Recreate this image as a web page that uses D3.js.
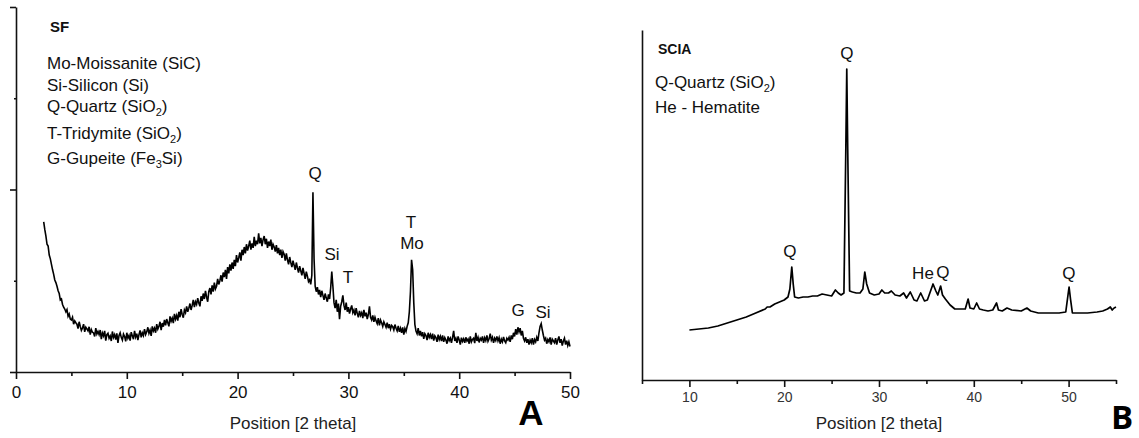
<!DOCTYPE html>
<html>
<head>
<meta charset="utf-8">
<script src="https://cdn.jsdelivr.net/npm/d3@7"></script>
<style>
  html, body { margin: 0; padding: 0; background: #fff; }
  svg { display: block; font-family: "Liberation Sans", Arial, sans-serif; }
</style>
</head>
<body>
<svg id="chart" width="1139" height="438"></svg>
<script>
// ---- SF diffractogram: counts on a uniform 2θ grid (2.5° – 50.0°, 0.1° step) ----
const scanStartA = 2.5;
const scanStepA = 0.1;
const countsA = [
  822, 780, 745, 700, 690, 641, 620, 590, 560, 535,   // 2.5 – 3.4
  504, 490, 470, 445, 430, 395, 400, 370, 355, 345,   // 3.5 – 4.4
  330, 342, 305, 318, 290, 285, 300, 262, 280, 270,   // 4.5 – 5.4
  262, 238, 275, 250, 228, 241, 262, 220, 245, 236,   // 5.5 – 6.4
  225, 248, 205, 232, 218, 214, 195, 240, 208, 222,   // 6.5 – 7.4
  205, 230, 180, 214, 198, 225, 172, 205, 212, 185,   // 7.5 – 8.4
  198, 170, 222, 190, 205, 178, 212, 160, 200, 215,   // 8.5 – 9.4
  190, 175, 208, 195, 168, 215, 185, 200, 172, 218,   // 9.5 – 10.4
  198, 180, 225, 192, 210, 175, 205, 228, 190, 215,   // 10.5 – 11.4
  200, 235, 205, 220, 245, 212, 230, 198, 250, 225,   // 11.5 – 12.4
  240, 215, 262, 235, 250, 275, 230, 268, 248, 285,   // 12.5 – 13.4
  255, 290, 270, 250, 305, 278, 295, 268, 318, 290,   // 13.5 – 14.4
  310, 282, 330, 300, 345, 315, 298, 340, 325, 360,   // 14.5 – 15.4
  330, 350, 375, 340, 365, 395, 355, 385, 370, 405,   // 15.5 – 16.4
  378, 360, 415, 390, 430, 400, 445, 410, 385, 440,   // 16.5 – 17.4
  460, 425, 475, 440, 490, 455, 470, 510, 480, 500,   // 17.5 – 18.4
  530, 495, 545, 520, 560, 510, 575, 540, 590, 555,   // 18.5 – 19.4
  600, 565, 615, 580, 640, 600, 625, 655, 610, 670,   // 19.5 – 20.4
  640, 685, 650, 700, 665, 690, 720, 670, 705, 680,   // 20.5 – 21.4
  740, 690, 720, 700, 760, 705, 735, 690, 725, 745,   // 21.5 – 22.4
  700, 730, 680, 715, 690, 725, 670, 700, 685, 660,   // 22.5 – 23.4
  695, 650, 680, 640, 670, 625, 660, 645, 610, 650,   // 23.5 – 24.4
  615, 590, 630, 600, 575, 610, 585, 560, 600, 570,   // 24.5 – 25.4
  545, 580, 555, 530, 570, 540, 510, 550, 525, 495,   // 25.5 – 26.4
  505, 480, 530, 985, 620, 470, 440, 465, 425, 450,   // 26.5 – 27.4
  410, 445, 420, 395, 430, 405, 385, 425, 400, 460,   // 27.5 – 28.4
  550, 470, 380, 350, 395, 330, 375, 290, 360, 385,   // 28.5 – 29.4
  420, 365, 340, 380, 330, 355, 320, 345, 365, 325,   // 29.5 – 30.4
  340, 310, 350, 320, 300, 335, 310, 325, 295, 340,   // 30.5 – 31.4
  305, 325, 290, 315, 360, 300, 285, 310, 275, 300,   // 31.5 – 32.4
  280, 265, 295, 255, 285, 270, 250, 275, 260, 245,   // 32.5 – 33.4
  270, 240, 262, 235, 255, 248, 230, 260, 240, 225,   // 33.5 – 34.4
  252, 220, 240, 215, 245, 205, 238, 222, 250, 270,   // 34.5 – 35.4
  330, 440, 615, 560, 380, 260, 225, 210, 240, 200,   // 35.5 – 36.4
  225, 195, 218, 182, 210, 200, 175, 215, 190, 205,   // 36.5 – 37.4
  180, 210, 172, 198, 188, 165, 205, 178, 195, 170,   // 37.5 – 38.4
  200, 165, 188, 175, 155, 195, 172, 185, 160, 190,   // 38.5 – 39.4
  225, 170, 185, 160, 195, 175, 150, 188, 168, 182,   // 39.5 – 40.4
  160, 190, 170, 180, 155, 195, 165, 178, 185, 158,   // 40.5 – 41.4
  215, 170, 190, 162, 185, 175, 195, 160, 188, 172,   // 41.5 – 42.4
  200, 168, 182, 210, 175, 190, 160, 185, 172, 195,   // 42.5 – 43.4
  170, 188, 155, 180, 165, 192, 170, 160, 185, 175,   // 43.5 – 44.4
  190, 165, 200, 180, 215, 195, 235, 205, 245, 220,   // 44.5 – 45.4
  240, 200, 225, 185, 170, 190, 160, 180, 150, 175,   // 45.5 – 46.4
  160, 185, 150, 178, 165, 190, 170, 215, 250, 265,   // 46.5 – 47.4
  230, 200, 175, 185, 155, 178, 165, 190, 150, 180,   // 47.5 – 48.4
  170, 160, 185, 150, 175, 195, 160, 180, 145, 170,   // 48.5 – 49.4
  185, 150, 172, 145, 165, 140                        // 49.5 – 50.0
];

// ---- SCIA diffractogram ----
const twoThetaB = [
  10, 11, 12, 13, 14, 15, 16, 17, 18, 18.2, 18.5, 19, 19.5, 20, 20.4, 20.6, 20.8, 20.95, 21.1, 21.5,
  22, 22.5, 23, 23.5, 24, 24.5, 25, 25.4, 25.7, 26, 26.3, 26.5, 26.6, 26.7, 26.9, 27.2, 27.6, 28, 28.3, 28.5,
  28.7, 29, 29.5, 30, 30.3, 30.6, 31, 31.3, 31.7, 32.2, 32.6, 32.9, 33.3, 33.7, 34, 34.4, 34.8, 35.1, 35.4, 35.7,
  36, 36.2, 36.5, 36.7, 37, 37.5, 38, 38.5, 39.1, 39.4, 39.6, 40, 40.3, 40.6, 41, 41.5, 42, 42.4, 42.6, 43,
  43.5, 44, 45, 45.6, 46, 46.8, 48, 49, 49.7, 49.95, 50.05, 50.2, 50.4, 51, 52, 53, 53.6, 54.1, 54.4, 54.6,
  54.8, 55
];
const countsB = [
  500, 510, 520, 540, 570, 600, 630, 670, 710, 730, 730, 760, 780, 800, 830, 910, 1130, 960, 830, 820,
  830, 830, 840, 840, 860, 850, 840, 900, 870, 850, 870, 2310, 3110, 2310, 890, 880, 870, 870, 910, 1080,
  960, 870, 850, 860, 900, 870, 870, 890, 850, 840, 870, 820, 880, 800, 790, 870, 790, 800, 880, 960,
  890, 850, 940, 850, 810, 750, 710, 710, 710, 810, 720, 710, 770, 710, 700, 690, 700, 770, 700, 690,
  720, 700, 690, 720, 690, 670, 670, 670, 680, 860, 930, 810, 670, 670, 670, 680, 690, 710, 730, 700,
  720, 730
];

// ---- axis ticks ----
const xTicksA = [0, 10, 20, 30, 40, 50];
const xMinorA = [5, 15, 25, 35, 45];
const yTicksA = [0, 1000, 2000];
const yMinorA = [500, 1500];
const xTicksB = [10, 20, 30, 40, 50];
const xMinorB = [5, 15, 25, 35, 45, 55];

// ---- phase keys ----
const titleA = "SF";
const phasesA = [
  [{ t: "Mo-Moissanite (SiC)" }],
  [{ t: "Si-Silicon (Si)" }],
  [{ t: "Q-Quartz (SiO" }, { t: "2", sub: true }, { t: ")" }],
  [{ t: "T-Tridymite (SiO" }, { t: "2", sub: true }, { t: ")" }],
  [{ t: "G-Gupeite (Fe" }, { t: "3", sub: true }, { t: "Si)" }]
];
const titleB = "SCIA";
const phasesB = [
  [{ t: "Q-Quartz (SiO" }, { t: "2", sub: true }, { t: ")" }],
  [{ t: "He - Hematite" }]
];

// ---- reflection labels (2θ, count level of the text baseline) ----
const peakLabelsA = [
  { text: "Q",  at: 26.99, level: 1057 },
  { text: "Si", at: 28.52, level: 614 },
  { text: "T",  at: 29.96, level: 488 },
  { text: "T",  at: 35.65, level: 789 },
  { text: "Mo", at: 35.74, level: 674 },
  { text: "G",  at: 45.31, level: 307 },
  { text: "Si", at: 47.56, level: 296 }
];
const peakLabelsB = [
  { text: "Q",  at: 20.61, level: 1230 },
  { text: "Q",  at: 26.62, level: 3210 },
  { text: "He", at: 34.64, level: 1010 },
  { text: "Q",  at: 36.75, level: 1020 },
  { text: "Q",  at: 50.04, level: 1010 }
];

const axisTitle = "Position [2 theta]";

// =====================================================================
const svg = d3.select("#chart");
const ink = "#111";

function styleAxis(g, width) {
  g.selectAll("path.domain").attr("stroke", ink).attr("stroke-width", width);
  g.selectAll(".tick line").attr("stroke", ink).attr("stroke-width", width);
}

function drawKey(x, title, titleY, titleSize, rows, rowYs) {
  svg.append("text")
    .attr("x", x + 3).attr("y", titleY)
    .attr("font-size", titleSize).attr("font-weight", "bold").attr("fill", ink)
    .text(title);
  rows.forEach((parts, i) => {
    const t = svg.append("text")
      .attr("x", x).attr("y", rowYs[i])
      .attr("font-size", 17).attr("fill", ink);
    parts.forEach(p => {
      if (p.sub) {
        t.append("tspan").attr("font-size", 11).attr("dy", 4).text(p.t);
      } else {
        const s = t.append("tspan").text(p.t);
        if (t.selectAll("tspan").size() > 1) s.attr("dy", -4);
      }
    });
  });
}

// ---------------- Panel A ----------------
const xA = d3.scaleLinear().domain([0, 50]).range([16, 570]);
const yA = d3.scaleLinear().domain([0, 2000]).range([372, 7]);

const gxA = svg.append("g").attr("transform", `translate(0,${yA(0)})`)
  .call(d3.axisBottom(xA).tickValues(xTicksA).tickSize(7).tickSizeOuter(0).tickPadding(7));
gxA.selectAll("text").attr("font-size", 17).attr("fill", ink).attr("font-family", "Liberation Sans, Arial, sans-serif");
styleAxis(gxA, 1.6);

const gxAm = svg.append("g").attr("transform", `translate(0,${yA(0)})`)
  .call(d3.axisBottom(xA).tickValues(xMinorA).tickSize(4).tickFormat(""));
gxAm.select("path.domain").remove();
styleAxis(gxAm, 1.6);

const gyA = svg.append("g").attr("transform", `translate(${xA(0)},0)`)
  .call(d3.axisLeft(yA).tickValues(yTicksA).tickSize(6).tickSizeOuter(0).tickFormat(""));
styleAxis(gyA, 1.6);
const gyAm = svg.append("g").attr("transform", `translate(${xA(0)},0)`)
  .call(d3.axisLeft(yA).tickValues(yMinorA).tickSize(2).tickFormat(""));
gyAm.select("path.domain").remove();
styleAxis(gyAm, 1.4);

const lineA = d3.line()
  .x((d, i) => xA(scanStartA + i * scanStepA))
  .y(d => yA(d));
svg.append("path").datum(countsA)
  .attr("d", lineA)
  .attr("fill", "none").attr("stroke", "#000").attr("stroke-width", 1.6)
  .attr("stroke-linejoin", "miter");

svg.append("g").selectAll("text").data(peakLabelsA).join("text")
  .attr("x", d => xA(d.at)).attr("y", d => yA(d.level))
  .attr("text-anchor", "middle").attr("font-size", 17).attr("fill", ink)
  .text(d => d.text);

svg.append("text")
  .attr("x", (xA.range()[0] + xA.range()[1]) / 2).attr("y", 429)
  .attr("text-anchor", "middle").attr("font-size", 17).attr("fill", "#222")
  .text(axisTitle);

svg.append("text")
  .attr("x", 531).attr("y", 425)
  .attr("text-anchor", "middle").attr("font-size", 35).attr("font-weight", "bold").attr("fill", "#000")
  .text("A");

drawKey(47, titleA, 32, 15, phasesA, [69, 91, 112, 139, 164]);

// ---------------- Panel B ----------------
const xB = d3.scaleLinear().domain([5, 55]).range([642, 1116]);
const yB = d3.scaleLinear().domain([0, 3500]).range([380, 30]);

const gxB = svg.append("g").attr("transform", `translate(0,${yB(0)})`)
  .call(d3.axisBottom(xB).tickValues(xTicksB).tickSize(7).tickSizeOuter(0).tickPadding(5));
gxB.selectAll("text").attr("font-size", 14).attr("fill", "#333").attr("font-family", "Liberation Sans, Arial, sans-serif");
styleAxis(gxB, 1.6);

const gxBm = svg.append("g").attr("transform", `translate(0,${yB(0)})`)
  .call(d3.axisBottom(xB).tickValues(xMinorB).tickSize(4).tickFormat(""));
gxBm.select("path.domain").remove();
styleAxis(gxBm, 1.6);

const gyB = svg.append("g").attr("transform", `translate(${xB(5)},0)`)
  .call(d3.axisLeft(yB).tickValues([]).tickSizeOuter(0));
styleAxis(gyB, 1.6);

const lineB = d3.line()
  .x((d, i) => xB(twoThetaB[i]))
  .y(d => yB(d));
svg.append("path").datum(countsB)
  .attr("d", lineB)
  .attr("fill", "none").attr("stroke", "#000").attr("stroke-width", 1.7)
  .attr("stroke-linejoin", "round");

svg.append("g").selectAll("text").data(peakLabelsB).join("text")
  .attr("x", d => xB(d.at)).attr("y", d => yB(d.level))
  .attr("text-anchor", "middle").attr("font-size", 17).attr("fill", ink)
  .text(d => d.text);

svg.append("text")
  .attr("x", (xB.range()[0] + xB.range()[1]) / 2).attr("y", 429)
  .attr("text-anchor", "middle").attr("font-size", 17).attr("fill", "#222")
  .text(axisTitle);

svg.append("text")
  .attr("x", 1122).attr("y", 429)
  .attr("text-anchor", "middle").attr("font-size", 33).attr("font-weight", "bold")
  .attr("font-family", "'Open Sans', 'Liberation Sans', sans-serif").attr("fill", "#000")
  .text("B");

drawKey(655, titleB, 54, 14, phasesB, [88, 113]);
</script>
</body>
</html>
